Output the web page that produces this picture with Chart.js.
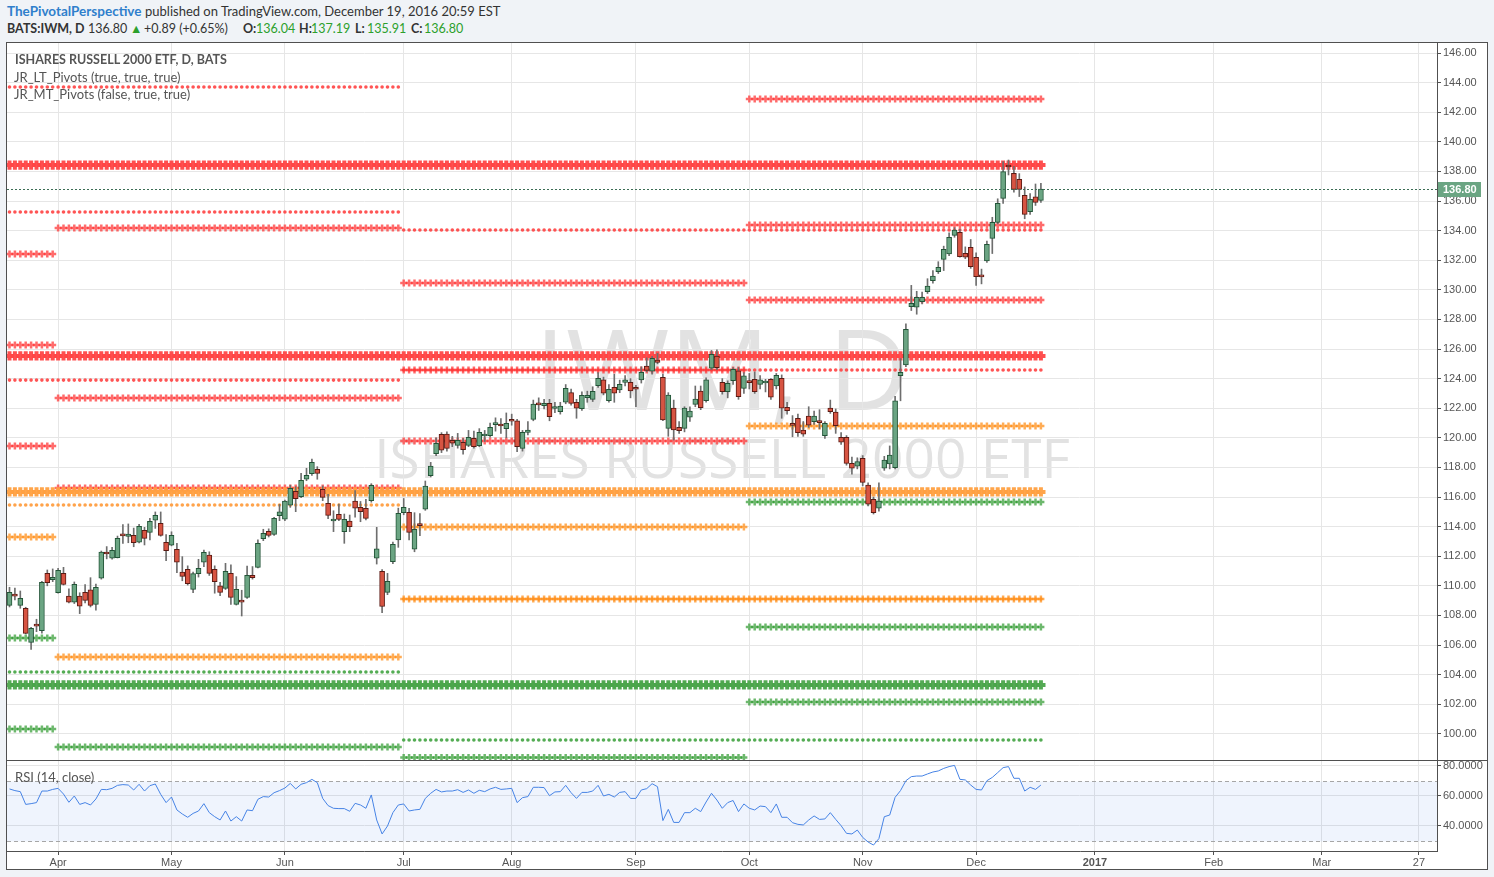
<!DOCTYPE html>
<html>
<head>
<meta charset="utf-8">
<script src="https://cdn.jsdelivr.net/npm/chart.js"></script>
<style>
html,body{margin:0;padding:0;}
body{width:1494px;height:877px;background:#f0f3f7;position:relative;overflow:hidden;font-family:'Lato',sans-serif;}
#frame{position:absolute;left:6px;top:42px;width:1482px;height:828px;box-sizing:border-box;border:1px solid #505050;background:#fff;z-index:0;}
#sep{position:absolute;left:6px;top:760px;width:1482px;height:1px;background:#505050;z-index:3;}
canvas{position:absolute;z-index:2;}
#cA{left:7px;top:43px;}
#cB{left:7px;top:761px;}
.wm{position:absolute;left:7px;width:1430px;text-align:center;color:#e2e2e2;white-space:nowrap;line-height:1;font-family:'Open Sans',sans-serif;z-index:1;}
#wm1{font-size:112px;top:311px;}
#wm2{font-size:55px;top:429px;}
.hd{position:absolute;line-height:16px;color:#333;white-space:nowrap;z-index:4;}
.l1{top:3px;font-size:13px;}
.l2{top:21px;font-size:12.5px;}
.auth{color:#2f7fcc;font-weight:bold;font-size:13.5px;}
.b{font-weight:bold;}
.g{color:#2ca02c;}
.lg{position:absolute;font-size:13px;line-height:16px;color:#555;white-space:nowrap;z-index:4;}
</style>
</head>
<body>
<div class="hd l1 auth" style="left:7px;">ThePivotalPerspective</div>
<div class="hd l1" style="left:145px;">published on TradingView.com, December 19, 2016 20:59 EST</div>
<div class="hd l2 b" style="left:7px;">BATS:IWM, D</div>
<div class="hd l2" style="left:88px;">136.80</div>
<div class="hd l2 g" style="left:130px;">▲</div>
<div class="hd l2" style="left:144px;">+0.89 (+0.65%)</div>
<div class="hd l2 b" style="left:243px;">O:</div>
<div class="hd l2 g" style="left:256px;">136.04</div>
<div class="hd l2 b" style="left:299px;">H:</div>
<div class="hd l2 g" style="left:311px;">137.19</div>
<div class="hd l2 b" style="left:355px;">L:</div>
<div class="hd l2 g" style="left:367px;">135.91</div>
<div class="hd l2 b" style="left:411px;">C:</div>
<div class="hd l2 g" style="left:424px;">136.80</div>
<div id="frame"></div>
<div class="wm" id="wm1">IWM, D</div>
<div class="wm" id="wm2">ISHARES RUSSELL 2000 ETF</div>
<canvas id="cA" width="1480" height="717" style="width:1480px;height:717px"></canvas>
<canvas id="cB" width="1480" height="108" style="width:1480px;height:108px"></canvas>
<div id="sep"></div>
<div class="lg" style="left:15px;top:52px;font-weight:bold;font-size:12.5px;">ISHARES RUSSELL 2000 ETF, D, BATS</div>
<div class="lg" style="left:14px;top:69px;">JR_LT_Pivots (true, true, true)</div>
<div class="lg" style="left:14px;top:86px;">JR_MT_Pivots (false, true, true)</div>
<div class="lg" style="left:15px;top:769px;">RSI (14, close)</div>
<script>
// ---- categories: daily bars from 2016-03-18 (index 0) to 2016-12-19 (index 191) ----
const monthIdx    = [9, 30, 51, 73, 93, 116, 137, 158, 179, 201, 223, 243, 261];
const monthLabels = ['Apr','May','Jun','Jul','Aug','Sep','Oct','Nov','Dec','2017','Feb','Mar','27'];
const priceTicks  = [100,102,104,106,108,110,112,114,116,118,120,122,124,126,128,130,132,134,136,138,140,142,144,146];
const rsiTicks    = [40, 60, 80];
const rsiBounds   = [30, 70];

// ---- OHLC ----
const opens = [108.68,109.36,108.68,108.48,106.18,107.32,106.97,110.84,110.41,109.54,
110.84,109.31,108.89,109.31,109.56,109.72,108.75,110.51,112.20,111.86,
111.90,113.42,113.34,113.41,112.94,113.75,113.61,114.43,114.22,112.94,
112.74,112.47,110.92,111.12,109.76,110.82,111.59,112.08,111.12,109.99,
109.83,110.84,108.75,108.96,109.22,110.71,111.25,113.18,113.68,113.48,
114.74,114.51,115.44,116.39,116.02,117.20,117.57,117.87,116.52,115.57,
114.38,114.83,113.66,114.38,115.73,115.30,115.24,115.75,111.86,110.98,
109.56,111.63,113.10,114.94,114.97,112.47,114.13,115.17,117.44,118.92,
120.24,120.26,119.83,119.49,119.70,119.49,119.97,119.47,120.12,120.14,
120.89,120.84,120.62,121.16,121.14,119.29,120.37,121.25,122.26,122.17,
122.33,121.98,121.77,122.40,123.05,122.40,121.97,122.71,122.60,123.52,
123.91,122.51,123.41,123.23,123.75,123.75,123.32,123.91,124.85,124.51,
125.26,124.09,120.64,122.00,120.71,120.64,121.39,122.26,123.16,122.51,
124.70,125.53,123.75,123.11,123.86,124.53,123.34,123.77,123.95,123.61,
123.70,123.95,123.50,124.02,122.06,120.88,121.32,120.53,121.47,121.09,
121.07,120.14,122.00,121.73,120.03,120.03,118.27,118.09,118.61,116.81,
115.84,115.24,117.94,118.23,117.98,124.20,124.92,128.86,128.82,129.20,
129.87,130.61,131.22,132.06,132.42,133.68,133.88,132.47,132.87,132.20,
130.91,131.95,133.48,134.56,136.18,138.34,137.87,137.47,136.39,135.28,
136.29,136.04];
const highs = [109.90,109.85,109.65,108.55,107.20,107.74,110.30,111.07,111.14,111.18,
111.25,109.80,110.26,109.53,110.08,110.55,110.12,112.35,112.65,112.60,
113.36,114.13,114.18,113.90,114.15,113.95,114.56,114.99,114.99,113.46,
113.65,112.87,111.97,111.35,110.92,111.79,112.42,112.30,111.35,110.24,
111.52,111.41,110.62,109.70,111.34,111.30,113.10,113.82,113.85,114.62,
115.50,115.80,116.80,116.70,117.60,117.94,118.57,118.05,116.75,116.18,
115.07,115.53,114.85,114.78,116.43,115.70,115.84,116.90,113.95,111.10,
110.84,112.95,115.25,115.90,115.24,114.94,114.88,117.08,118.34,120.00,
120.35,120.40,120.10,120.30,119.95,120.50,120.45,120.62,120.50,121.00,
121.35,121.30,121.68,121.60,121.25,120.50,121.10,122.55,122.70,122.60,
122.60,122.40,122.40,123.60,123.30,122.60,123.10,123.15,123.45,124.40,
124.10,123.60,124.30,123.90,124.20,124.00,123.55,124.80,125.40,125.50,
125.70,124.30,123.05,122.55,121.10,122.10,122.10,123.50,123.50,124.05,
125.90,125.95,124.00,123.85,124.75,124.75,124.40,124.35,124.45,124.20,
123.95,124.00,124.35,124.25,122.40,121.50,121.60,121.10,122.10,121.80,
121.90,121.10,122.55,121.95,120.35,120.15,118.70,118.65,118.80,116.95,
116.00,116.95,118.75,119.45,122.80,125.35,127.70,130.30,129.90,129.85,
130.75,131.30,131.90,132.95,133.85,134.20,134.10,132.90,133.40,132.50,
131.40,133.30,134.90,136.15,138.66,138.77,138.35,137.85,136.95,136.50,
137.15,137.19];
const lows = [108.57,109.04,108.48,106.75,105.71,106.90,106.80,110.00,110.28,109.50,
110.05,108.84,108.80,108.12,108.84,108.57,108.36,110.45,111.82,111.80,
111.88,112.87,112.91,112.64,112.90,112.76,113.10,113.88,113.35,111.70,
112.70,110.89,110.34,110.05,109.53,110.59,111.29,110.70,109.50,109.33,
109.75,108.75,108.70,107.96,109.15,110.45,111.20,113.05,113.30,113.40,
114.40,114.40,115.30,115.01,115.95,117.10,117.45,117.20,115.75,114.53,
113.66,114.40,112.87,113.66,114.63,114.33,114.45,115.65,111.47,108.18,
109.40,111.50,112.60,114.80,113.10,112.30,113.39,115.10,117.35,118.79,
119.00,119.10,119.40,119.30,118.90,119.40,119.30,119.40,119.75,120.05,
120.45,120.30,120.00,120.85,119.06,119.10,120.20,121.15,121.85,121.95,
121.15,121.70,121.60,122.30,122.20,121.32,121.85,122.40,122.45,123.40,
122.90,122.40,122.40,123.05,123.50,122.70,122.10,123.70,124.45,124.30,
125.00,121.15,120.10,119.85,120.30,120.40,121.10,122.10,121.90,122.40,
124.60,124.60,122.95,122.70,123.60,122.60,123.00,123.30,123.00,123.30,
123.10,122.60,123.30,121.32,121.60,120.07,120.10,120.10,120.70,120.90,
120.60,119.95,121.65,120.30,119.55,118.15,117.55,117.90,116.75,115.40,
114.85,115.05,117.80,117.90,117.90,122.50,124.80,128.60,128.35,129.05,
129.75,130.45,131.10,131.30,132.30,133.55,132.20,132.10,131.45,130.30,
130.40,131.85,132.45,134.45,135.84,137.76,136.60,136.30,134.80,135.10,
135.70,135.91];
const closes = [109.56,109.30,109.16,106.79,107.13,107.28,110.24,110.21,110.57,111.05,
110.09,108.89,110.10,108.62,109.02,108.68,109.90,112.28,112.15,112.40,
113.21,113.37,113.50,112.91,114.02,113.21,114.36,114.76,113.41,112.37,
113.41,111.59,110.64,110.14,110.82,111.18,112.26,110.84,110.28,109.56,
110.98,109.22,109.76,108.90,110.71,110.55,112.87,113.55,113.41,114.56,
114.99,115.73,116.59,115.89,117.13,117.47,118.35,117.60,115.98,114.76,
114.42,114.49,114.49,113.99,115.24,115.01,114.56,116.79,112.49,108.60,
110.30,112.80,114.90,115.30,113.61,113.82,114.07,116.74,118.09,119.63,
119.16,119.29,119.63,119.83,119.20,120.03,119.40,120.37,120.16,120.71,
121.02,120.80,120.98,121.12,119.40,120.37,120.53,122.28,122.22,122.33,
121.43,122.02,122.15,123.34,122.33,122.00,122.87,122.87,123.14,124.02,
123.01,123.28,123.01,123.61,123.91,123.16,123.28,124.43,124.56,125.37,
125.10,121.20,122.89,120.53,120.48,122.00,121.81,122.62,122.04,123.91,
125.64,124.74,123.11,123.68,124.63,122.78,124.18,123.73,123.11,123.91,
123.74,122.74,124.22,122.00,121.83,120.84,120.34,120.24,120.86,121.47,
121.03,120.98,121.77,120.82,119.70,118.27,117.94,118.39,116.99,115.51,
114.94,115.73,118.50,118.84,122.49,124.43,127.33,129.09,129.49,129.49,
130.26,130.93,131.52,132.74,133.55,134.04,132.24,132.20,131.56,130.89,
130.87,133.07,134.56,135.84,137.98,138.30,136.79,136.79,135.10,136.11,
135.91,136.80];

// ---- RSI(14) ----
const rsi14 = [64.7,63.6,62.9,54.4,54.9,55.6,63.3,63.3,64.4,65.1,
61.3,55.8,60.0,54.4,55.6,54.0,58.0,64.4,64.2,65.1,
67.1,67.6,67.3,64.0,67.8,63.3,66.9,68.0,61.1,55.6,
59.3,50.7,48.0,45.8,48.4,50.0,54.9,48.9,46.2,44.0,
50.0,43.3,46.2,43.3,50.7,50.2,57.8,59.6,59.3,62.2,
63.6,65.3,68.4,64.7,67.8,68.9,71.1,68.9,58.4,53.6,
51.8,51.6,51.6,49.8,55.1,54.0,51.8,60.7,44.0,34.7,
40.0,48.9,54.0,54.7,50.0,50.7,51.1,58.4,61.8,64.4,
62.7,63.3,63.3,64.2,62.4,64.0,61.8,63.8,62.9,64.7,
65.8,64.4,64.7,65.1,55.6,58.9,59.6,65.8,65.8,65.6,
60.2,62.7,62.9,67.1,62.2,58.4,62.4,62.4,63.3,67.1,
60.0,61.1,59.3,62.4,62.9,58.4,58.4,64.0,64.9,68.2,
66.2,43.6,51.1,42.4,42.4,48.9,48.9,51.8,49.6,56.0,
61.8,57.3,51.8,55.6,57.0,49.6,54.7,51.8,50.7,53.3,
52.9,48.9,54.7,45.8,45.8,42.2,41.1,40.7,44.0,46.7,
44.4,44.7,48.9,44.4,40.2,35.1,34.7,37.3,32.4,29.3,
27.3,31.6,46.2,47.3,59.1,63.6,70.2,72.9,73.3,73.3,
74.7,76.0,76.7,78.4,79.6,80.4,71.1,70.7,67.3,64.4,
64.0,70.2,72.4,75.6,78.9,79.6,71.8,71.8,63.3,65.8,
64.4,67.3];

// ---- pivot levels (JR pivots) ----
const quarterBars = [[0,8],[9,72],[73,136],[137,191]];
const qRed    = [[132.42,126.27,119.45],[134.18,122.69,116.60],[130.46,124.58,119.78],[142.90,134.38,129.31]];
const qOrange = [[113.30],[105.19],[113.97,109.10],[120.80,109.10]];
const qGreen  = [[106.47,100.32],[99.10],[103.30,98.40],[115.66,107.22,102.15]];
const halfBars = [[0,72],[73,191]];
const hRed    = [[143.70,135.26,123.90],[134.04,124.58]];
const hOrange = [[115.46],[109.10]];
const hGreen  = [[104.18],[99.58]];
const yearBars = [0,191];
const yRed    = [138.43,125.53];
const yOrange = [116.34];
const yGreen  = [103.30];

// ---- styles / layout ----
const X_MIN = -0.463, X_MAX = 264.35;
const P_MIN = 98.23,  P_MAX = 146.676;
const R_MIN = 23.33,  R_MAX = 83.33;
const GRID = '#e6e6e6';
const AXIS = '#505050';
const UP_FILL = '#6ba583', UP_LINE = '#225437', DN_FILL = '#d75442', DN_LINE = '#5b1a13';
const STY = {
  thin:  {style:'cross',  r:3.5, w:2.5},
  thick: {style:'cross',  r:4.6, w:4},
  dot:   {style:'circle', r:1.8, w:0}
};
const COL = {
  thin:  {r:'rgba(255,50,50,0.72)',  o:'rgba(255,140,20,0.72)', g:'rgba(40,150,40,0.68)'},
  thick: {r:'rgba(255,70,70,0.95)',  o:'rgba(255,160,65,0.95)', g:'rgba(75,165,75,0.95)'},
  dot:   {r:'rgba(255,60,60,0.88)',  o:'rgba(255,150,50,0.88)', g:'rgba(60,160,60,0.88)'}
};

Chart.defaults.font.family = "'Liberation Sans', Arial, sans-serif";

function noPad(s) { s.paddingTop = 0; s.paddingBottom = 0; s.paddingLeft = 0; s.paddingRight = 0; }

const pivotSets = [];
function addPivot(level, a, b, kind, c) {
  const pts = [];
  for (let i = a; i <= b; i++) pts.push({x: i, y: level});
  const st = STY[kind];
  pivotSets.push({
    type: 'line', data: pts, showLine: false, order: kind === 'thick' ? 3 : 4,
    pointStyle: st.style, pointRadius: st.r, pointHoverRadius: st.r,
    pointBorderWidth: st.w, pointBorderColor: COL[kind][c], pointBackgroundColor: COL[kind][c]
  });
}
quarterBars.forEach((s, q) => {
  qRed[q].forEach(l => addPivot(l, s[0], s[1], 'thin', 'r'));
  qOrange[q].forEach(l => addPivot(l, s[0], s[1], 'thin', 'o'));
  qGreen[q].forEach(l => addPivot(l, s[0], s[1], 'thin', 'g'));
});
halfBars.forEach((s, h) => {
  hRed[h].forEach(l => addPivot(l, s[0], s[1], 'dot', 'r'));
  hOrange[h].forEach(l => addPivot(l, s[0], s[1], 'dot', 'o'));
  hGreen[h].forEach(l => addPivot(l, s[0], s[1], 'dot', 'g'));
});
yRed.forEach(l => addPivot(l, yearBars[0], yearBars[1], 'thick', 'r'));
yOrange.forEach(l => addPivot(l, yearBars[0], yearBars[1], 'thick', 'o'));
yGreen.forEach(l => addPivot(l, yearBars[0], yearBars[1], 'thick', 'g'));

const isUp = opens.map((o, i) => closes[i] >= o);
const wickDs = {
  type: 'bar', order: 1, grouped: false, barThickness: 1,
  data: opens.map((o, i) => ({x: i, y: [lows[i], highs[i]]})),
  backgroundColor: '#6e6e6e', borderWidth: 0
};
const bodyDs = {
  type: 'bar', order: 0, grouped: false, barThickness: 5, minBarLength: 2,
  data: opens.map((o, i) => ({x: i, y: [o, closes[i]]})),
  backgroundColor: isUp.map(u => u ? UP_FILL : DN_FILL),
  borderColor: isUp.map(u => u ? UP_LINE : DN_LINE),
  borderWidth: 1, borderSkipped: false
};

const lastPrice = {
  id: 'lastPrice',
  afterDatasetsDraw(chart) {
    const {ctx, chartArea: a, scales: {y}} = chart;
    const py = Math.round(y.getPixelForValue(closes[closes.length - 1])) + 0.5;
    ctx.save();
    ctx.strokeStyle = '#3c6e55';
    ctx.lineWidth = 1;
    ctx.setLineDash([2, 2]);
    ctx.beginPath(); ctx.moveTo(a.left, py); ctx.lineTo(a.right, py); ctx.stroke();
    ctx.restore();
  },
  afterDraw(chart) {
    const {ctx, chartArea: a, scales: {y}} = chart;
    const v = closes[closes.length - 1];
    const py = Math.round(y.getPixelForValue(v));
    ctx.save();
    ctx.fillStyle = UP_FILL;
    ctx.fillRect(a.right + 1, py - 7, 43, 15);
    ctx.fillStyle = '#fff';
    ctx.font = "bold 11px 'Liberation Sans', Arial";
    ctx.textBaseline = 'middle';
    ctx.fillText(v.toFixed(2), a.right + 6, py + 1);
    ctx.restore();
  }
};

new Chart(document.getElementById('cA'), {
  type: 'bar',
  data: {datasets: [bodyDs, wickDs, ...pivotSets]},
  options: {
    responsive: false, animation: false, events: [], devicePixelRatio: 1,
    layout: {padding: 0, autoPadding: false},
    plugins: {legend: {display: false}, tooltip: {enabled: false}},
    scales: {
      x: {
        type: 'linear', min: X_MIN, max: X_MAX, offset: false,
        afterBuildTicks: s => { s.ticks = monthIdx.map(v => ({value: v})); },
        afterFit: s => { s.height = 0; noPad(s); },
        ticks: {display: false},
        grid: {color: GRID, drawTicks: false, offset: false},
        border: {display: false}
      },
      y: {
        type: 'linear', position: 'right', min: P_MIN, max: P_MAX,
        afterBuildTicks: s => { s.ticks = priceTicks.map(v => ({value: v})); },
        afterFit: s => { s.width = 50; noPad(s); },
        ticks: {autoSkip: false, padding: 2, color: '#555', font: {size: 11}, callback: v => v.toFixed(2)},
        grid: {color: GRID, tickColor: AXIS, tickLength: 4},
        border: {display: true, color: AXIS}
      }
    }
  },
  plugins: [lastPrice]
});

const rsiBand = {
  id: 'rsiBand',
  beforeDatasetsDraw(chart) {
    const {ctx, chartArea: a, scales: {y}} = chart;
    const yHi = Math.round(y.getPixelForValue(rsiBounds[1])) + 0.5;
    const yLo = Math.round(y.getPixelForValue(rsiBounds[0])) + 0.5;
    ctx.save();
    ctx.fillStyle = 'rgba(40,110,230,0.075)';
    ctx.fillRect(a.left, yHi, a.right - a.left, yLo - yHi);
    ctx.strokeStyle = '#a6a6a6';
    ctx.lineWidth = 1;
    ctx.setLineDash([4, 3]);
    ctx.beginPath();
    ctx.moveTo(a.left, yHi); ctx.lineTo(a.right, yHi);
    ctx.moveTo(a.left, yLo); ctx.lineTo(a.right, yLo);
    ctx.stroke();
    ctx.restore();
  }
};

new Chart(document.getElementById('cB'), {
  type: 'line',
  data: {datasets: [{
    data: rsi14.map((v, i) => ({x: i, y: v})),
    borderColor: '#4683e5', borderWidth: 1, pointRadius: 0, tension: 0, fill: false
  }]},
  options: {
    responsive: false, animation: false, events: [], devicePixelRatio: 1,
    layout: {padding: 0, autoPadding: false},
    plugins: {legend: {display: false}, tooltip: {enabled: false}},
    scales: {
      x: {
        type: 'linear', min: X_MIN, max: X_MAX, offset: false,
        afterBuildTicks: s => { s.ticks = monthIdx.map(v => ({value: v})); },
        afterFit: s => { s.height = 18; noPad(s); },
        ticks: {
          autoSkip: false, maxRotation: 0, minRotation: 0, padding: 1, color: '#555',
          font: c => ({size: 11, weight: (c.tick && monthLabels[monthIdx.indexOf(c.tick.value)] === '2017') ? 'bold' : 'normal'}),
          callback: v => monthLabels[monthIdx.indexOf(v)]
        },
        grid: {color: GRID, tickColor: AXIS, tickLength: 4, offset: false},
        border: {display: true, color: AXIS}
      },
      y: {
        type: 'linear', position: 'right', min: R_MIN, max: R_MAX,
        afterBuildTicks: s => { s.ticks = rsiTicks.map(v => ({value: v})); },
        afterFit: s => { s.width = 50; noPad(s); },
        ticks: {autoSkip: false, padding: 2, color: '#555', font: {size: 11}, callback: v => v.toFixed(4)},
        grid: {color: GRID, tickColor: AXIS, tickLength: 4},
        border: {display: true, color: AXIS}
      }
    }
  },
  plugins: [rsiBand]
});
</script>
</body>
</html>
